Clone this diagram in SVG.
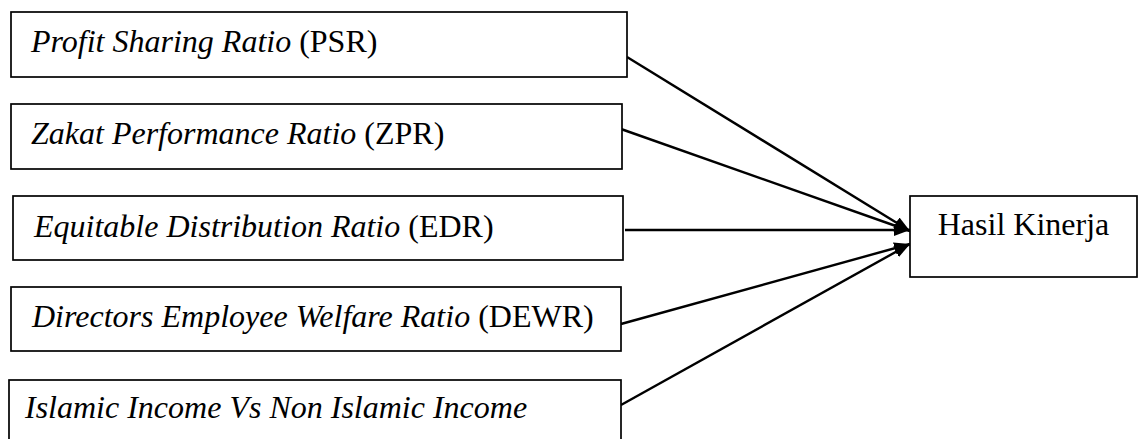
<svg xmlns="http://www.w3.org/2000/svg" width="1140" height="439" viewBox="0 0 1140 439">
<style>
.box{fill:#fff;stroke:#000;stroke-width:1.7}
.t{font-family:"Liberation Serif","Times New Roman",serif;font-size:32px;fill:#000}
.i{font-style:italic}
.c{stroke:#000;stroke-width:2.4;fill:none;marker-end:url(#ah)}
</style>
<defs>
<marker id="ah" markerUnits="userSpaceOnUse" markerWidth="18" markerHeight="14" refX="16" refY="6" orient="auto">
<path d="M0,0 L16,6 L0,12 Z" fill="#000"/>
</marker>
</defs>
<rect width="1140" height="439" fill="#fff"/>
<g id="connectors">
<line class="c" x1="627" y1="57" x2="910" y2="231"/>
<line class="c" x1="621" y1="129" x2="910" y2="231"/>
<line class="c" x1="625" y1="230" x2="910" y2="230"/>
<line class="c" x1="621" y1="324" x2="910" y2="244"/>
<line class="c" x1="621" y1="405" x2="910" y2="244"/>
</g>
<g id="psr">
<rect class="box" x="11" y="12" width="616" height="65"/>
<text class="t" x="31" y="52"><tspan class="i">Profit Sharing Ratio</tspan> (PSR)</text>
</g>
<g id="zpr">
<rect class="box" x="11" y="104" width="611" height="65"/>
<text class="t" x="31" y="144"><tspan class="i">Zakat Performance Ratio</tspan> (ZPR)</text>
</g>
<g id="edr">
<rect class="box" x="13" y="196" width="610" height="64"/>
<text class="t" x="34" y="237"><tspan class="i">Equitable Distribution Ratio</tspan> (EDR)</text>
</g>
<g id="dewr">
<rect class="box" x="11" y="287" width="610" height="64"/>
<text class="t" x="32" y="327"><tspan class="i">Directors Employee Welfare Ratio</tspan> (DEWR)</text>
</g>
<g id="iincome">
<rect class="box" x="9" y="380" width="612" height="70"/>
<text class="t i" x="25" y="418">Islamic Income Vs Non Islamic Income</text>
</g>
<g id="hasil">
<rect class="box" x="910" y="196" width="227" height="81"/>
<text class="t" x="1023.5" y="235" text-anchor="middle">Hasil Kinerja</text>
</g>
</svg>
